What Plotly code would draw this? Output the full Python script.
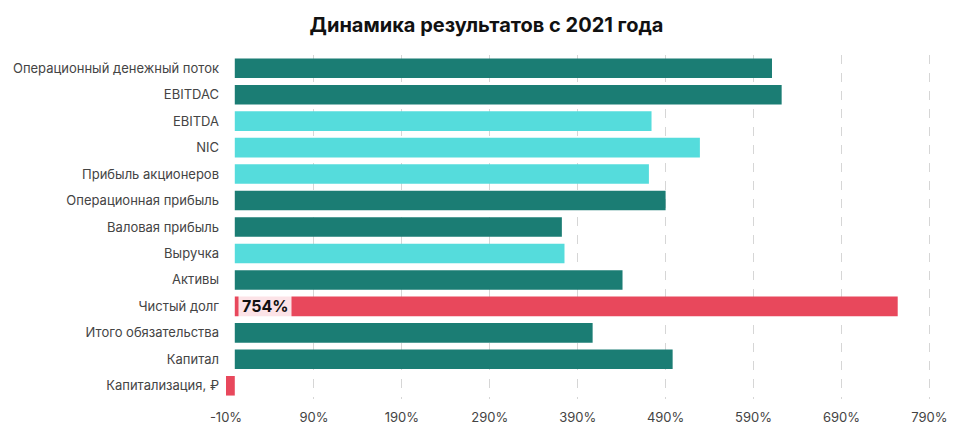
import plotly.graph_objects as go

categories = [
    "Операционный денежный поток", "EBITDAC", "EBITDA", "NIC",
    "Прибыль акционеров", "Операционная прибыль", "Валовая прибыль",
    "Выручка", "Активы", "Чистый долг", "Итого обязательства",
    "Капитал", "Капитализация, ₽",
]
values = [611, 622, 474, 529, 471, 490, 372, 375, 441, 754, 407, 498, -10]
groups = ["dark", "dark", "light", "light", "light", "dark", "dark",
          "light", "dark", "red", "dark", "dark", "red"]
tick_vals = [-10, 90, 190, 290, 390, 490, 590, 690, 790]
tick_text = ["-10%", "90%", "190%", "290%", "390%", "490%", "590%", "690%", "790%"]
highlight = "Чистый долг"

palette = {"dark": "#1b7d74", "light": "#55dcdc", "red": "#e8485c"}
colors = [palette[g] for g in groups]

fig = go.Figure(go.Bar(
    y=categories, x=values, orientation="h",
    marker=dict(color=colors, line=dict(width=0)),
    hoverinfo="x+y",
))

hi = categories.index(highlight)
fig.add_annotation(
    x=0, y=categories[hi], xref="x", yref="y",
    text="<b>%d%%</b>" % values[hi], showarrow=False,
    xanchor="left", xshift=3,
    font=dict(family="Inter, sans-serif", size=16, color="#111"),
    bgcolor="rgba(255,255,255,0.85)", borderpad=3,
)

fig.update_layout(
    width=973, height=437,
    margin=dict(l=226, r=41, t=55, b=35),
    paper_bgcolor="white", plot_bgcolor="white",
    title=dict(text="<b>Динамика результатов с 2021 года</b>", x=0.5, xanchor="center",
               y=0.942, yanchor="middle",
               font=dict(family="Inter, sans-serif", size=20, color="#111")),
    bargap=0.26,
    showlegend=False,
    font=dict(family="Inter, sans-serif", size=13, color="#444"),
)
fig.update_xaxes(
    range=[-10, 793], tickvals=tick_vals, ticktext=tick_text,
    showgrid=True, gridcolor="#d6d6d6", griddash="dash", gridwidth=1,
    zeroline=False, showline=False, ticks="", ticklen=0,
    ticklabelstandoff=9,
    tickfont=dict(size=13, color="#444"),
)
fig.update_yaxes(
    autorange="reversed", showgrid=False, zeroline=False,
    showline=False, ticks="", ticklabelstandoff=6,
    tickfont=dict(size=13, color="#444"),
)

fig.write_html("out.html")
